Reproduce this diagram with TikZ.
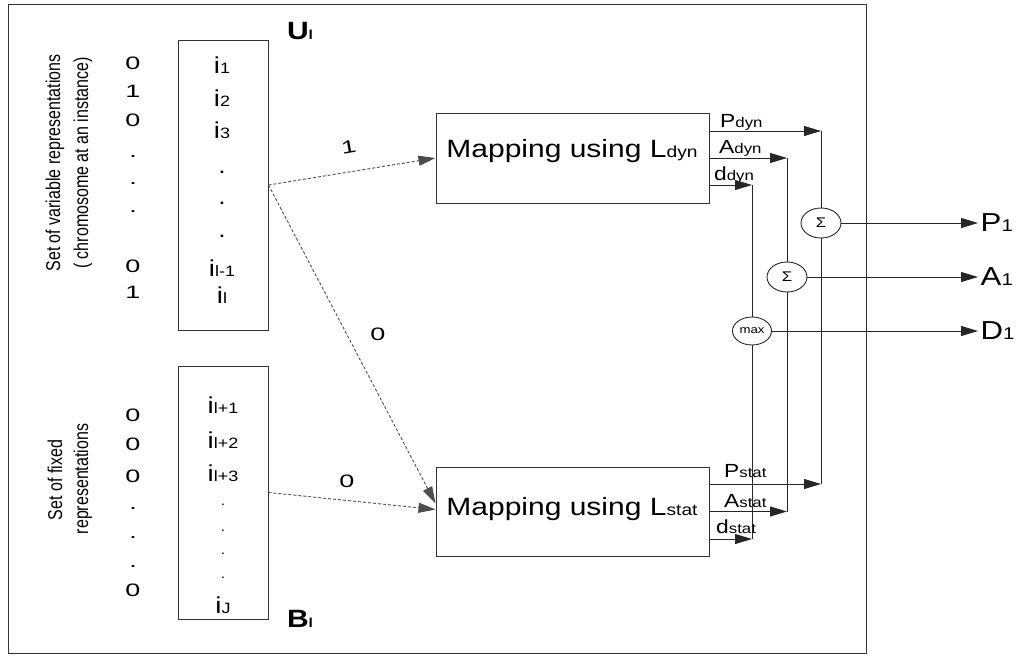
\documentclass[tikz,border=0pt]{standalone}
\usepackage{graphicx}
\usepackage{fontspec}
\setmainfont[FakeStretch=1.2]{Liberation Sans}
\newfontfamily\plainsans{Liberation Sans}
\usetikzlibrary{arrows.meta,shapes.geometric,calc}
\newcommand{\fs}[1]{\fontsize{#1}{#1}\selectfont}
\newcommand{\lo}[2]{{\fs{#1}#2}}
\newcommand{\vtext}[1]{\scalebox{1.25}[1]{\rotatebox{90}{\plainsans\fs{16}#1}}}
\newcommand{\dig}[1]{\scalebox{1.25}[1]{\fs{18}#1}}
\begin{document}
\begin{tikzpicture}[x=1pt,y=-1pt,
  box/.style={draw=black!80,line width=1pt,inner sep=0pt},
  wire/.style={draw=black!85,line width=0.9pt},
  arr/.style={wire,-{Triangle[length=17pt,width=10pt]}},
  dsh/.style={draw=black!70,line width=0.9pt,dash pattern=on 3pt off 2pt,-{Triangle[length=17pt,width=10pt]}},
  op/.style={ellipse,draw=black!85,line width=0.9pt,fill=white,minimum width=40pt,minimum height=30pt,inner sep=0pt},
  txt/.style={inner sep=0pt},
]
\useasboundingbox (0,0) rectangle (1026,656);
% frame
\node[box,minimum width=858pt,minimum height=649pt] (frame) at (437,328.5) {};
% input boxes
\node[box,minimum width=90pt,minimum height=290pt] (U) at (223,185) {};
\node[box,minimum width=90pt,minimum height=253pt] (B) at (223,492.5) {};
\node[txt] (Ul) at (300,31) {\fs{25}\bfseries U\lo{13}{l}};
\node[txt] (Bl) at (300,619) {\fs{25}\bfseries B\lo{13}{l}};
% side texts
\node[txt] (t1) at (55,163) {\vtext{Set of variable representations}};
\node[txt] (t2) at (83,163) {\vtext{( chromosome at an instance)}};
\node[txt] (t3) at (55,480) {\vtext{Set of fixed}};
\node[txt] (t4) at (83,479) {\vtext{representations}};
% digit columns
\foreach \y/\t [count=\k] in {63/0,91/1,120/0,157/.,184/.,212/.,266/0,292/1}
  \node[txt] (du\k) at (133,\y) {\dig{\t}};
\foreach \y/\t [count=\k] in {415/0,444/0,476/0,509/.,538/.,567/.,590/0}
  \node[txt] (db\k) at (133,\y) {\dig{\t}};
% U box contents
\node[txt] (u1) at (222,65) {\fs{23}i\lo{15}{1}};
\node[txt] (u2) at (222,98) {\fs{23}i\lo{15}{2}};
\node[txt] (u3) at (222,130) {\fs{23}i\lo{15}{3}};
\foreach \y [count=\k] in {172,203,236}
  \node[txt] (ud\k) at (222,\y) {\fs{22}.};
\node[txt] (u4) at (222,268) {\fs{23}i\lo{15}{l-1}};
\node[txt] (u5) at (222,295) {\fs{23}i\lo{15}{l}};
% B box contents
\node[txt] (b1) at (223,405) {\fs{23}i\lo{15}{l+1}};
\node[txt] (b2) at (223,440) {\fs{23}i\lo{15}{l+2}};
\node[txt] (b3) at (223,473) {\fs{23}i\lo{15}{l+3}};
\foreach \y [count=\k] in {505,531,554,578}
  \node[txt] (bd\k) at (223,\y) {\fs{13}.};
\node[txt] (b4) at (223,605) {\fs{23}i\lo{15}{J}};
% mapping boxes
\node[box,minimum width=273pt,minimum height=90pt] (dyn) at (572.5,158) {};
\node[box,minimum width=273pt,minimum height=89pt] (stat) at (572.5,511.5) {};
\node[txt] (dynt) at (572,151) {\fs{25}Mapping using L\lo{16}{dyn}};
\node[txt] (statt) at (572,509) {\fs{25}Mapping using L\lo{16}{stat}};
% dashed connectors
\draw[dsh] (U.east) -- (dyn.west) node[txt,pos=0.48,yshift=25pt,rotate=10] (l1) {\dig{1}};
\draw[dsh] (U.east) -- ($(stat.west)+(0,-8)$) node[txt,pos=0.47,xshift=31pt] (l2) {\dig{0}};
\draw[dsh] (B.east) -- ($(stat.west)+(0,-2)$) node[txt,pos=0.47,yshift=19pt] (l3) {\dig{0}};
% combiners
\node[op] (sP) at (821,223) {\fs{14}Σ};
\node[op] (sA) at (787,277) {\fs{14}Σ};
\node[op,minimum width=39pt,minimum height=28pt] (mx) at (752,331) {\fs{11}max};
% output coordinates of the mapping boxes
\coordinate (pd) at ($(dyn.east)+(0,-27)$);
\coordinate (ad) at (dyn.east);
\coordinate (dd) at ($(dyn.east)+(0,27)$);
\coordinate (ps) at ($(stat.east)+(0,-27.5)$);
\coordinate (as) at ($(stat.east)+(0,0)$);
\coordinate (ds) at ($(stat.east)+(0,27.5)$);
% labels
\node[txt,anchor=base west] (lpd) at (720,127) {\fs{19}P\lo{14}{dyn}};
\node[txt,anchor=base west] (lad) at (719,153) {\fs{19}A\lo{14}{dyn}};
\node[txt,anchor=base west] (ldd) at (714,180) {\fs{19}d\lo{14}{dyn}};
\node[txt,anchor=base west] (lps) at (724,477) {\fs{19}P\lo{14}{stat}};
\node[txt,anchor=base west] (las) at (724,507) {\fs{19}A\lo{14}{stat}};
\node[txt,anchor=base west] (lds) at (716,533) {\fs{19}d\lo{14}{stat}};
% P path
\draw[arr] (pd) -- (pd -| sP);
\draw[wire] (pd -| sP) -- (sP.north);
\draw[wire] (sP.south) -- (ps -| sP);
\draw[arr] (ps) -- (ps -| sP);
% A path
\draw[arr] (ad) -- (ad -| sA);
\draw[wire] (ad -| sA) -- (sA.north);
\draw[wire] (sA.south) -- (as -| sA);
\draw[arr] (as) -- (as -| sA);
% d path
\draw[arr] (dd) -- (dd -| mx);
\draw[wire] (dd -| mx) -- (mx.north);
\draw[wire] (mx.south) -- (ds -| mx);
\draw[arr] (ds) -- (ds -| mx);
% outputs
\node[txt,anchor=west,inner xsep=2.5pt] (P1) at (978,223) {\fs{26}P\lo{17}{1}};
\node[txt,anchor=west,inner xsep=2.5pt] (A1) at (978,277) {\fs{26}A\lo{17}{1}};
\node[txt,anchor=west,inner xsep=2.5pt] (D1) at (978,331) {\fs{26}D\lo{17}{1}};
\draw[arr] (sP.east) -- (P1.west);
\draw[arr] (sA.east) -- (A1.west);
\draw[arr] (mx.east) -- (D1.west);
\end{tikzpicture}
\end{document}
